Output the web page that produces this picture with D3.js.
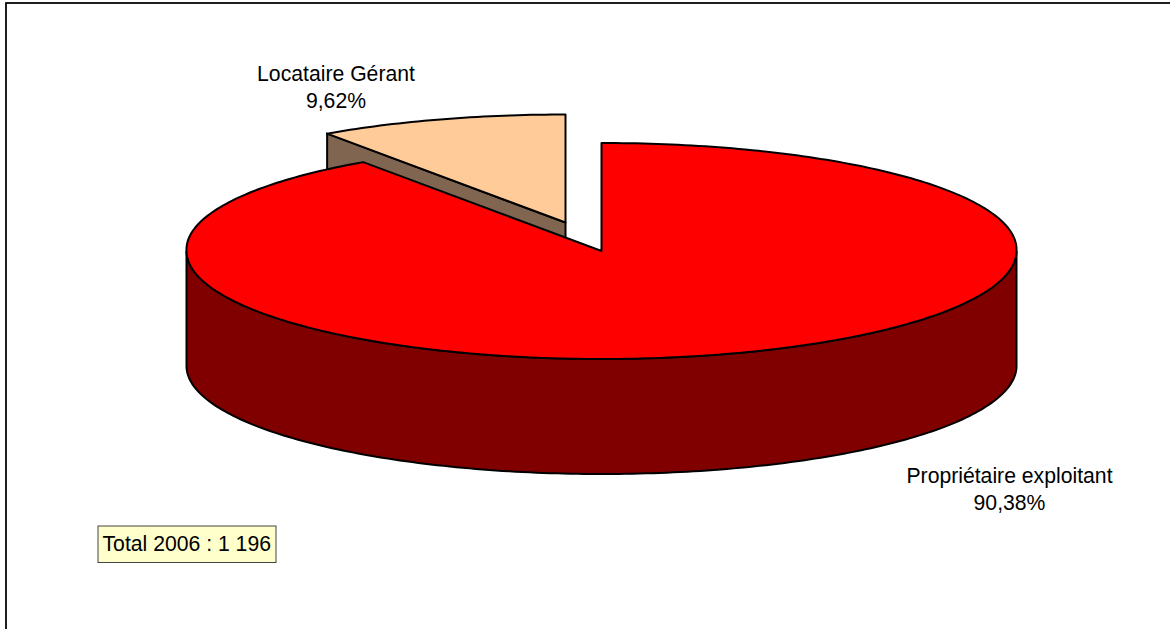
<!DOCTYPE html>
<html>
<head>
<meta charset="utf-8">
<script src="https://cdn.jsdelivr.net/npm/d3@7"></script>
<style>
html, body { margin: 0; padding: 0; background: #fff; overflow: hidden; }
svg { display: block; }
text { font-family: "Liberation Sans", Arial, sans-serif; fill: #000; }
</style>
</head>
<body>
<svg id="chart" width="1170" height="629"></svg>
<script>
const categories = ['Propriétaire exploitant', 'Locataire Gérant'];
const shares = [90.38, 9.62];
const shareLabels = ['90,38%', '9,62%'];
const topColors = ['#ff0000', '#ffcc99'];
const sideColors = ['#800000', '#806650'];
const totalLabel = 'Total 2006 : 1 196';

const width = 1170, height = 629;
const cx = 601.5, cy = 251, rx = 415, ry = 108, depth = 115;
const explode = [0, 0], explodeTan = [-36, -28.5];

const svg = d3.select('#chart');

// chart frame runs off the right and bottom of the picture
svg.append('rect')
    .attr('x', 6).attr('y', 3)
    .attr('width', width).attr('height', height)
    .attr('fill', '#fff').attr('stroke', '#000').attr('stroke-width', 1.75);

const slices = d3.pie().sort(null)(shares);

// flat circle to screen, unit radius
const px = d3.scaleLinear().domain([-1, 1]).range([cx - rx, cx + rx]);
const py = d3.scaleLinear().domain([-1, 1]).range([cy - ry, cy + ry]);
// the back of the disc comes out a touch wider in the 3D view
const widen = a => 1 + 0.013 * Math.max(0, Math.cos(a));
const rim = (a, off) => [px(Math.sin(a) * widen(a)) + off[0], py(-Math.cos(a)) + off[1]];

function angles(a0, a1) {
    const n = Math.max(2, Math.ceil(Math.abs(a1 - a0) * 60));
    return d3.range(n + 1).map(i => a0 + (a1 - a0) * i / n);
}

function topPath(d, off) {
    const line = d3.line();
    const centre = [cx + off[0], cy + off[1]];
    const pts = [centre].concat(angles(d.startAngle, d.endAngle).map(a => rim(a, off)));
    return line(pts) + 'Z';
}

// tan slice first, the red one sits on top of its wall
const tan = slices[1];
const tanStart = rim(tan.startAngle, explodeTan);
const tanCentre = [cx + explodeTan[0], cy + explodeTan[1]];

svg.append('path')
    .attr('d', d3.line()([tanStart, tanCentre,
        [tanCentre[0], tanCentre[1] + depth], [tanStart[0], tanStart[1] + depth]]) + 'Z')
    .attr('fill', sideColors[1]).attr('stroke', '#000').attr('stroke-width', 2);

svg.append('path')
    .attr('d', topPath(tan, explodeTan))
    .attr('fill', topColors[1]).attr('stroke', '#000').attr('stroke-width', 2)
    .attr('stroke-linejoin', 'round');

// outer wall of the red slice, front half of the rim
const wall = d3.area()
    .x(a => rim(a, explode)[0])
    .y0(a => rim(a, explode)[1])
    .y1(a => rim(a, explode)[1] + depth);

svg.append('path')
    .attr('d', wall(angles(Math.PI / 2, 3 * Math.PI / 2)))
    .attr('fill', sideColors[0]).attr('stroke', '#000').attr('stroke-width', 2);

svg.append('path')
    .attr('d', topPath(slices[0], explode))
    .attr('fill', topColors[0]).attr('stroke', '#000').attr('stroke-width', 2)
    .attr('stroke-linejoin', 'round');

// labels
const labelPos = [[1009.5, 483], [336, 81]];
categories.forEach((c, i) => {
    const t = svg.append('text')
        .attr('text-anchor', 'middle')
        .attr('font-size', 21.2)
        .attr('x', labelPos[i][0]).attr('y', labelPos[i][1]);
    t.append('tspan').attr('x', labelPos[i][0]).text(c);
    t.append('tspan').attr('x', labelPos[i][0]).attr('dy', 27.3).text(shareLabels[i]);
});

// total box
svg.append('rect')
    .attr('x', 98).attr('y', 526).attr('width', 178).attr('height', 36.5)
    .attr('fill', '#ffffcc').attr('stroke', '#444').attr('stroke-width', 1);
svg.append('text')
    .attr('x', 102.5).attr('y', 551)
    .attr('font-size', 21.2)
    .text(totalLabel);
</script>
</body>
</html>
